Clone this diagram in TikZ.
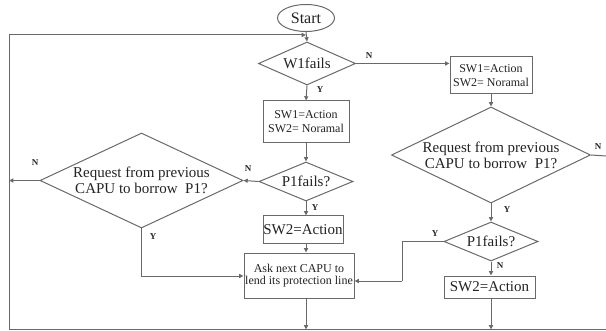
\documentclass[tikz,border=0pt]{standalone}
\usepackage{fontspec}
\setmainfont{Liberation Serif}
\usetikzlibrary{shapes.geometric,arrows.meta}
\definecolor{ln}{RGB}{105,105,105}
\definecolor{tx}{RGB}{35,35,35}
\tikzset{
  x=0.75pt, y=-0.75pt,
  conn/.style={draw=ln, line width=0.75pt},
  arr/.style={conn, -{Triangle[length=3.2pt,width=3pt]}},
  dia/.style={diamond, draw=ln, line width=0.75pt, inner sep=0pt, text=tx},
  box/.style={rectangle, draw=ln, line width=0.75pt, inner sep=0pt, text=tx, align=center},
  big/.style={font=\fontsize{11.25}{12}\selectfont},
  small/.style={font=\fontsize{9}{10.5}\selectfont},
  yn/.style={text=tx, inner sep=0pt, font=\fontsize{6.75}{7}\selectfont\bfseries},
}
\begin{document}
\begin{tikzpicture}
\useasboundingbox (0,0) rectangle (606,331);
% nodes
\node[ellipse, draw=ln, line width=0.75pt, minimum width=42.75pt, minimum height=20.25pt, inner sep=0pt, text=tx, font=\fontsize{12}{13}\selectfont] (start) at (306,18) {Start};
\node[dia, minimum width=72.75pt, minimum height=32.25pt, label={[big,text=tx]center:W1fails}] (w1) at (307,63.5) {};
\node[box, small, minimum width=64.5pt, minimum height=31.5pt] (b1) at (306,122) {SW1=Action\\SW2= Noramal};
\node[dia, minimum width=70.5pt, minimum height=29.25pt, label={[big,text=tx]center:P1fails?}] (p1c) at (306,181.5) {};
\node[dia, minimum width=152.25pt, minimum height=71.25pt, label={[big,text=tx,align=center]center:Request from previous\\CAPU to borrow\ \ P1?}] (reqL) at (141.5,180.5) {};
\node[box, big, minimum width=60pt, minimum height=20.25pt] (s2c) at (303,229.5) {SW2=Action};
\node[box, small, minimum width=82.5pt, minimum height=33.75pt, font=\fontsize{9}{9.5}\selectfont] (ask) at (299,275.5) {Ask next CAPU to\\lend its protection line};
\node[box, small, minimum width=61.5pt, minimum height=27.75pt] (b2) at (491,75.5) {SW1=Action\\SW2= Noramal};
\node[dia, minimum width=149.25pt, minimum height=72pt, label={[big,text=tx,align=center]center:Request from previous\\CAPU to borrow\ \ P1?}] (reqR) at (491,155) {};
\node[dia, minimum width=70.5pt, minimum height=29.25pt, label={[big,text=tx]center:P1fails?}] (p1r) at (491,241.5) {};
\node[box, big, minimum width=68.25pt, minimum height=16.5pt] (s2r) at (489.5,287) {SW2=Action};
% free ends
\coordinate (bR) at (606,329.5);
\coordinate (bL) at (9,329.5);
\coordinate (tL) at (9,35);
\coordinate (tJ) at (306,35);
\coordinate (eR) at (606,156);
\coordinate (jY) at (402,281);
% connectors
\draw[arr] (start.south) -- (w1.north);
\draw[conn] (bR) -- (bL) -- (tL);
\draw[arr] (tL) -- (tJ);
\draw[arr] (w1.east) -- (b2.west |- w1.east);
\draw[arr] (w1.south) -- (b1.north);
\draw[arr] (b1.south) -- (p1c.north);
\draw[arr] (p1c.west) -- (reqL.east);
\draw[arr] (reqL.west) -- (tL |- reqL.west);
\draw[arr] (reqL.south) |- (ask.west |- 0,276);
\draw[arr] (p1c.south) -- (p1c.south |- s2c.north);
\draw[arr] (p1c.south |- s2c.south) -- (p1c.south |- ask.north);
\draw[arr] (p1c.south |- ask.south) -- (p1c.south |- bR);
\draw[arr] (b2.south) -- (reqR.north);
\draw[conn] (reqR.east) -- (eR);
\draw[arr] (reqR.south) -- (p1r.north);
\draw[conn] (p1r.west) -| (jY);
\draw[arr] (jY) -- (ask.east |- jY);
\draw[arr] (p1r.south) -- (p1r.south |- s2r.north);
\draw[arr] (p1r.south |- s2r.south) -- (p1r.south |- bR);
% labels
\node[yn] (lN1) at (369,56) {N};
\node[yn] (lY1) at (320,90) {Y};
\node[yn] (lN2) at (248,169) {N};
\node[yn] (lN3) at (35,163) {N};
\node[yn] (lY2) at (153,237) {Y};
\node[yn] (lY3) at (315,208) {Y};
\node[yn] (lN4) at (598,147) {N};
\node[yn] (lY4) at (507,210) {Y};
\node[yn] (lY5) at (435,234) {Y};
\node[yn] (lN5) at (500,266) {N};
\end{tikzpicture}
\end{document}
